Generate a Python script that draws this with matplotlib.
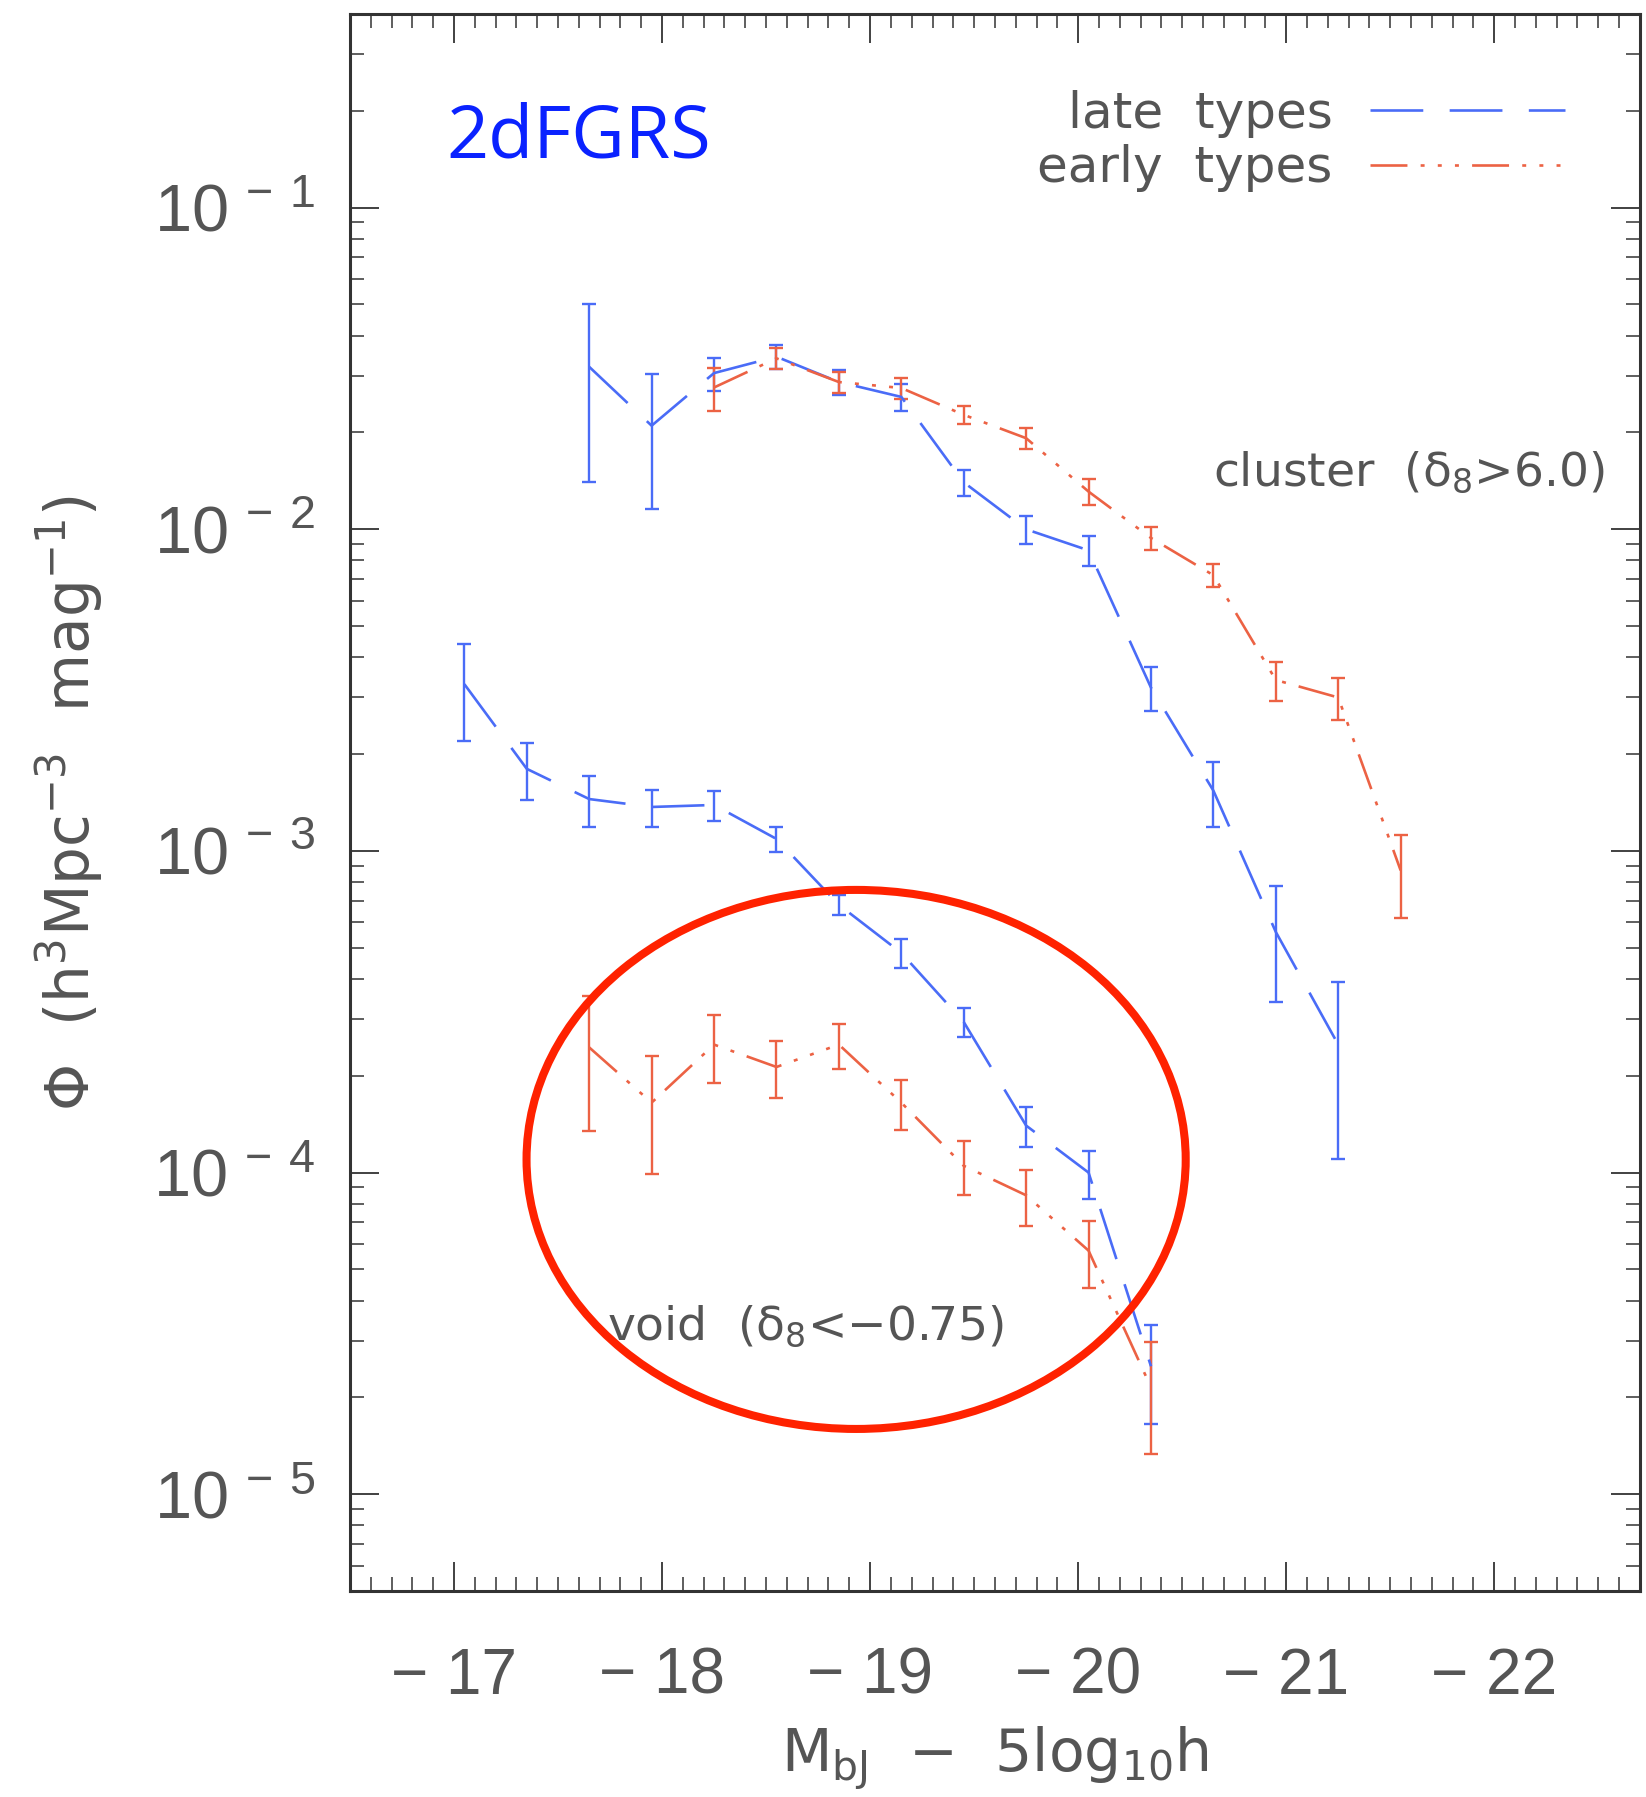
import matplotlib
matplotlib.use('Agg')
from matplotlib import pyplot as plt
from matplotlib.patches import Ellipse
from matplotlib.ticker import MultipleLocator, LogLocator, NullFormatter

# absolute magnitude bins (M_bJ - 5log10 h)
mag_late_cluster = [-17.65, -17.95, -18.25, -18.55, -18.85, -19.15, -19.45, -19.75, -20.05, -20.35, -20.65, -20.95, -21.25]
phi_late_cluster = [0.032, 0.021, 0.0306, 0.0344, 0.0287, 0.0258, 0.0140, 0.0100, 0.0086, 0.00322, 0.00154, 0.00056, 0.00025]
err_late_cluster = [0.018, 0.0094, 0.0036, 0.0030, 0.0026, 0.0025, 0.0013, 0.0010, 0.0009, 0.0005, 0.00035, 0.00022, 0.00014]

mag_early_cluster = [-18.25, -18.55, -18.85, -19.15, -19.45, -19.75, -20.05, -20.35, -20.65, -20.95, -21.25, -21.55]
phi_early_cluster = [0.0276, 0.0340, 0.0287, 0.0275, 0.0227, 0.0192, 0.0131, 0.0094, 0.0072, 0.0034, 0.0030, 0.00087]
err_early_cluster = [0.0042, 0.0025, 0.0022, 0.0020, 0.0014, 0.0014, 0.0012, 0.0008, 0.0006, 0.00048, 0.00045, 0.00025]

mag_late_void = [-17.05, -17.35, -17.65, -17.95, -18.25, -18.55, -18.85, -19.15, -19.45, -19.75, -20.05, -20.35]
phi_late_void = [0.0033, 0.0018, 0.00145, 0.00137, 0.00139, 0.00109, 0.00068, 0.000482, 0.000294, 0.00014, 0.000100, 0.000025]
err_late_void = [0.0011, 0.00036, 0.00026, 0.00018, 0.00015, 0.0001, 0.00005, 0.00005, 0.00003, 0.00002, 0.000017, 0.0000085]

mag_early_void = [-17.65, -17.95, -18.25, -18.55, -18.85, -19.15, -19.45, -19.75, -20.05, -20.35]
phi_early_void = [0.000245, 0.000165, 0.00025, 0.000213, 0.000250, 0.000165, 0.000105, 0.000085, 0.0000572, 0.0000215]
err_early_void = [0.00011, 0.000066, 0.00006, 0.000043, 0.00004, 0.000029, 0.00002, 0.000017, 0.0000135, 0.0000082]

xticks = [-17, -18, -19, -20, -21, -22]
xticklabels = ['\u2212 17', '\u2212 18', '\u2212 19', '\u2212 20', '\u2212 21', '\u2212 22']
yticks = [1e-5, 1e-4, 1e-3, 1e-2, 1e-1]
yticklabels = [r'$10^{\,-\,5}$', r'$10^{\,-\,4}$', r'$10^{\,-\,3}$', r'$10^{\,-\,2}$', r'$10^{\,-\,1}$']

plt.rcParams['font.family'] = ['Liberation Sans', 'DejaVu Sans']
plt.rcParams['mathtext.default'] = 'regular'

blue = '#4a6cf7'
red = '#ec6244'
grey = '#555555'
txtfont = ['DejaVu Sans']

fig = plt.figure(figsize=(16.46, 17.97), dpi=100)
ax = fig.add_axes([0.2126, 0.1146, 0.7837, 0.8776])

ax.errorbar(mag_late_cluster, phi_late_cluster, yerr=err_late_cluster, fmt='none',
            ecolor=blue, elinewidth=1.7, capsize=5, capthick=1.7)
ax.errorbar(mag_late_void, phi_late_void, yerr=err_late_void, fmt='none',
            ecolor=blue, elinewidth=1.7, capsize=5, capthick=1.7)
ax.errorbar(mag_early_cluster, phi_early_cluster, yerr=err_early_cluster, fmt='none',
            ecolor=red, elinewidth=1.7, capsize=5, capthick=1.7)
ax.errorbar(mag_early_void, phi_early_void, yerr=err_early_void, fmt='none',
            ecolor=red, elinewidth=1.7, capsize=5, capthick=1.7)

late_dash = (20, 10)
early_dash = (14, 5, 1.5, 5, 1.5, 5, 1.5, 5)
ax.plot(mag_late_cluster, phi_late_cluster, color=blue, lw=1.9, dashes=late_dash, label='late  types')
ax.plot(mag_late_void, phi_late_void, color=blue, lw=1.9, dashes=late_dash)
ax.plot(mag_early_cluster, phi_early_cluster, color=red, lw=1.9, dashes=early_dash, label='early  types')
ax.plot(mag_early_void, phi_early_void, color=red, lw=1.9, dashes=early_dash)

ax.set_yscale('log')
ax.set_xlim(-16.5, -22.7)
ax.set_ylim(5e-6, 0.4)

ax.set_xticks(xticks)
ax.set_xticklabels(xticklabels)
ax.xaxis.set_minor_locator(MultipleLocator(0.1))
ax.set_yticks(yticks)
ax.set_yticklabels(yticklabels)
ax.yaxis.set_minor_locator(LogLocator(base=10, subs=range(2, 10), numticks=20))
ax.yaxis.set_minor_formatter(NullFormatter())

ax.tick_params(which='both', direction='in', top=True, right=True, colors='#333333', labelcolor=grey)
ax.tick_params(which='major', length=21, width=1.3)
ax.tick_params(axis='x', which='major', pad=40, labelsize=46)
ax.tick_params(axis='y', which='major', pad=25, labelsize=48)
ax.tick_params(which='minor', length=10, width=1.1)
for s in ax.spines.values():
    s.set_linewidth(2.2)
    s.set_color('#333333')

ax.set_xlabel('M$_{bJ}$  \u2212  5log$_{10}$h', fontsize=42, color=grey, family=txtfont)
ax.xaxis.set_label_coords(0.5, -0.085)
ax.set_ylabel('Φ  (h$^3$Mpc$^{-3}$  mag$^{-1}$)', fontsize=43, color=grey, va='center', family=txtfont)
ax.yaxis.set_label_coords(-0.218, 0.5)

ax.legend(loc='upper right', bbox_to_anchor=(0.942, 0.952), frameon=False, markerfirst=False,
          prop={'family': txtfont, 'size': 36}, handlelength=3.9, handletextpad=0.75,
          labelspacing=0.13, borderpad=0, borderaxespad=0, labelcolor=grey)

ax.text(0.075, 0.921, '2dFGRS', transform=ax.transAxes, fontsize=53, color='#0a22ff',
        family='Open Sans', ha='left', va='center')
ax.text(0.973, 0.709, 'cluster  (δ$_8$>6.0)', transform=ax.transAxes, fontsize=34,
        color=grey, ha='right', va='center', family=txtfont)
ax.text(0.199, 0.168, 'void  (δ$_8$<\u22120.75)', transform=ax.transAxes, fontsize=34,
        color=grey, ha='left', va='center', family=txtfont)

ax.add_patch(Ellipse((0.3924, 0.2737), 0.511, 0.3418, transform=ax.transAxes,
                     fill=False, edgecolor='#ff2200', lw=5.8, zorder=5))

fig.savefig('out.png', dpi=100)
